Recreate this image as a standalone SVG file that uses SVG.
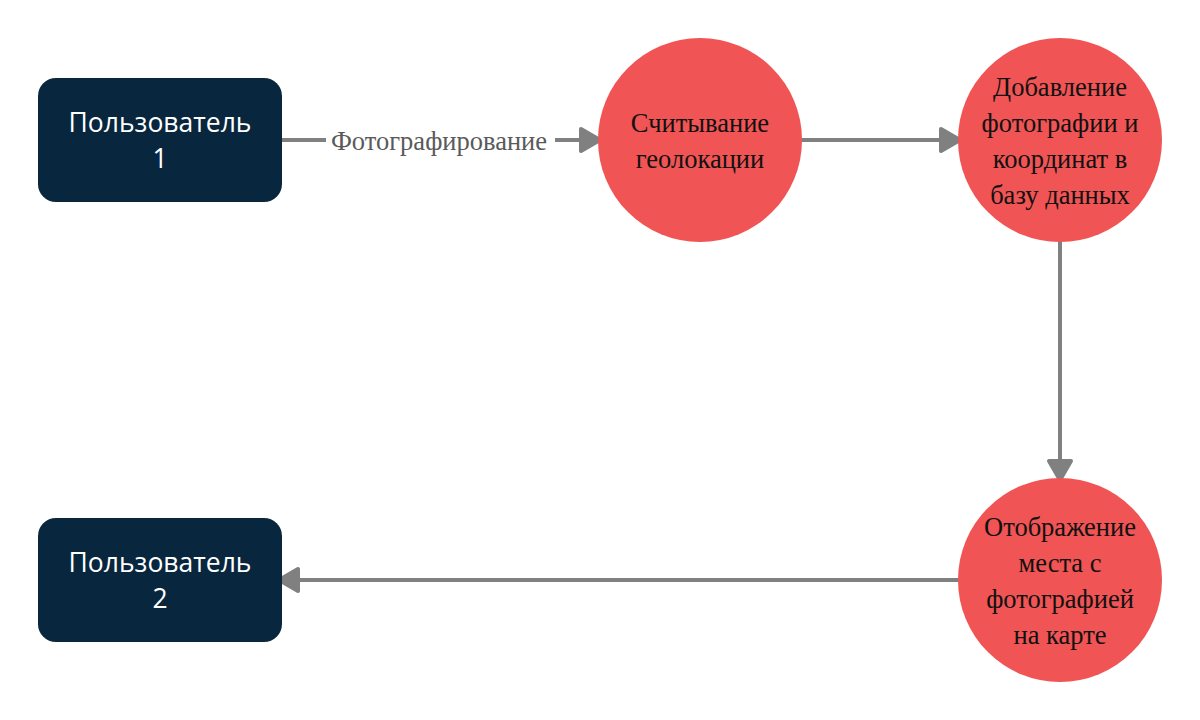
<svg xmlns="http://www.w3.org/2000/svg" width="1200" height="720" viewBox="0 0 1200 720">
<style>
.box{fill:#08263d}
.circ{fill:#f05454}
.bt{font-family:"Open Sans","Noto Sans",sans-serif;font-size:26.5px;fill:#ffffff;text-anchor:middle}
.ct{font-family:"Liberation Serif",serif;font-size:26.5px;fill:#111111;text-anchor:middle}
.lbl{font-family:"Liberation Serif",serif;font-size:26.5px;fill:#5a5a5a;text-anchor:middle}
.edge{stroke:#808080;stroke-width:4;fill:none}
</style>
<defs>
<marker id="ah" markerUnits="userSpaceOnUse" markerWidth="30" markerHeight="30" viewBox="-24 -15 30 30" refX="0" refY="0" orient="auto">
<path d="M-19,-11 L0,0 L-19,11 Z" fill="#808080" stroke="#808080" stroke-width="4" stroke-linejoin="round"/>
</marker>
</defs>
<rect width="1200" height="720" fill="#ffffff"/>
<g id="connectors">
<line class="edge" x1="282" y1="140" x2="600" y2="140" marker-end="url(#ah)"/>
<rect x="326" y="124" width="229" height="32" fill="#ffffff"/>
<text class="lbl" x="439" y="150">Фотографирование</text>
<line class="edge" x1="802" y1="140" x2="960" y2="140" marker-end="url(#ah)"/>
<line class="edge" x1="1060" y1="242" x2="1060" y2="480" marker-end="url(#ah)"/>
<line class="edge" x1="958" y1="580" x2="279" y2="580" marker-end="url(#ah)"/>
</g>
<g id="user1">
<rect class="box" x="38" y="78" width="244" height="124" rx="18"/>
<text class="bt" x="160" y="132">Пользователь</text>
<text class="bt" x="160" y="168">1</text>
</g>
<g id="user2">
<rect class="box" x="38" y="518" width="244" height="124" rx="18"/>
<text class="bt" x="160" y="572">Пользователь</text>
<text class="bt" x="160" y="608">2</text>
</g>
<g id="geo">
<circle class="circ" cx="700" cy="140" r="102"/>
<text class="ct" x="700" y="132">Считывание</text>
<text class="ct" x="700" y="168">геолокации</text>
</g>
<g id="db">
<circle class="circ" cx="1060" cy="140" r="102"/>
<text class="ct" x="1060" y="96">Добавление</text>
<text class="ct" x="1060" y="132">фотографии и</text>
<text class="ct" x="1060" y="168">координат в</text>
<text class="ct" x="1060" y="204">базу данных</text>
</g>
<g id="map">
<circle class="circ" cx="1060" cy="580" r="102"/>
<text class="ct" x="1060" y="536">Отображение</text>
<text class="ct" x="1060" y="572">места с</text>
<text class="ct" x="1060" y="608">фотографией</text>
<text class="ct" x="1060" y="644">на карте</text>
</g>
</svg>
